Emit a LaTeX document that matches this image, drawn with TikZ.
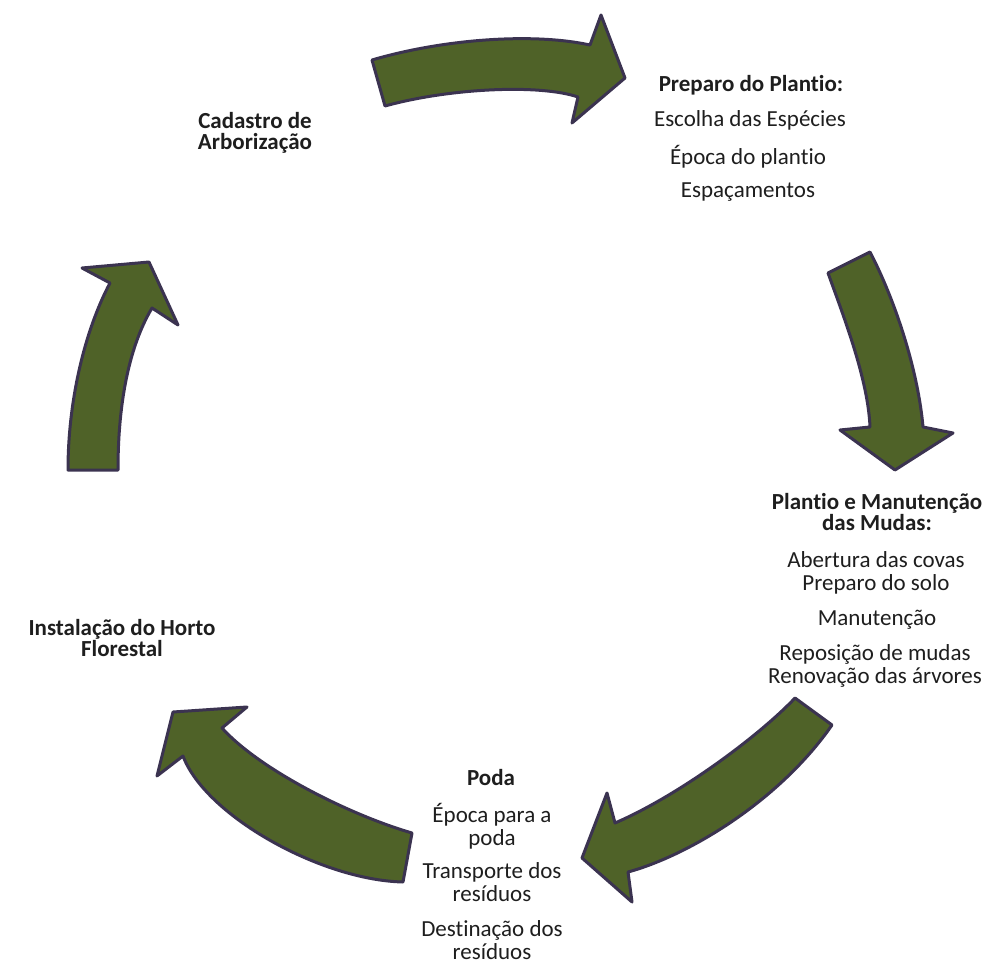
\documentclass[tikz,border=0pt]{standalone}
\usepackage{fontspec}
\setmainfont{Carlito}[Ligatures={NoCommon}]
\definecolor{arrfill}{HTML}{4F6228}
\definecolor{arrline}{HTML}{3B3350}
\definecolor{txt}{HTML}{1E1E1E}
\tikzset{
  blockarrow/.style={fill=arrfill, draw=arrline, line width=3pt, line join=round},
  lbl/.style={text=txt, font=\fontsize{23pt}{23pt}\selectfont, inner sep=0pt, align=center},
  blbl/.style={lbl, font=\fontsize{23pt}{23pt}\selectfont\bfseries}
}
\begin{document}
\begin{tikzpicture}[x=1pt,y=-1pt]
\useasboundingbox (0,0) rectangle (993,973);
% arrow 1 (top)
\draw[blockarrow] (372,60) .. controls (440,40) and (530,32) .. (590,45)
  -- (601,15) -- (625,78) -- (572,123) -- (578,97)
  .. controls (540,84) and (450,88) .. (385,106) -- cycle;
% arrow 2 (right)
\draw[blockarrow] (828,273) .. controls (845,320) and (868,380) .. (870,427)
  -- (840,430) -- (895,470) -- (953,433) -- (923,427)
  .. controls (918,370) and (895,300) .. (870,252) -- cycle;
% arrow 3 (lower right)
\draw[blockarrow] (795,698) .. controls (760,735) and (680,795) .. (615,823)
  -- (607,793) -- (582,858) -- (632,902) -- (628,872)
  .. controls (690,855) and (780,800) .. (832,725) -- cycle;
% arrow 4 (lower left)
\draw[blockarrow] (412,833) .. controls (350,815) and (260,770) .. (222,728)
  -- (247,707) -- (173,712) -- (157,776) -- (183,756)
  .. controls (205,815) and (320,880) .. (403,882) -- cycle;
% arrow 5 (left)
\draw[blockarrow] (68,470) .. controls (68,400) and (85,330) .. (110,283)
  -- (82,268) -- (149,262) -- (178,325) -- (152,308)
  .. controls (130,345) and (118,400) .. (118,470) -- cycle;
% texts
\node[blbl] (cad) at (255,133) {Cadastro de\\[-2pt]Arborização};
\node[blbl] (prep) at (751,85) {Preparo do Plantio:};
\node[lbl] (prep1) at (750,120) {Escolha das Espécies};
\node[lbl] (prep2) at (748,157) {Época do plantio};
\node[lbl] (prep3) at (748,192) {Espaçamentos};
\node[blbl] (plan) at (877,512) {Plantio e Manutenção\\[-2pt]das Mudas:};
\node[lbl] (plan1) at (876,573) {Abertura das covas\\Preparo do solo};
\node[lbl] (plan2) at (877,620) {Manutenção};
\node[lbl] (plan3) at (875,666) {Reposição de mudas\\Renovação das árvores};
\node[blbl] (poda) at (491,778) {Poda};
\node[lbl] (poda1) at (492,826) {Época para a\\poda};
\node[lbl] (poda2) at (492,882) {Transporte dos\\resíduos};
\node[lbl] (poda3) at (492,940) {Destinação dos\\resíduos};
\node[blbl] (inst) at (122,638) {Instalação do Horto\\[-2pt]Florestal};
\end{tikzpicture}
\end{document}
